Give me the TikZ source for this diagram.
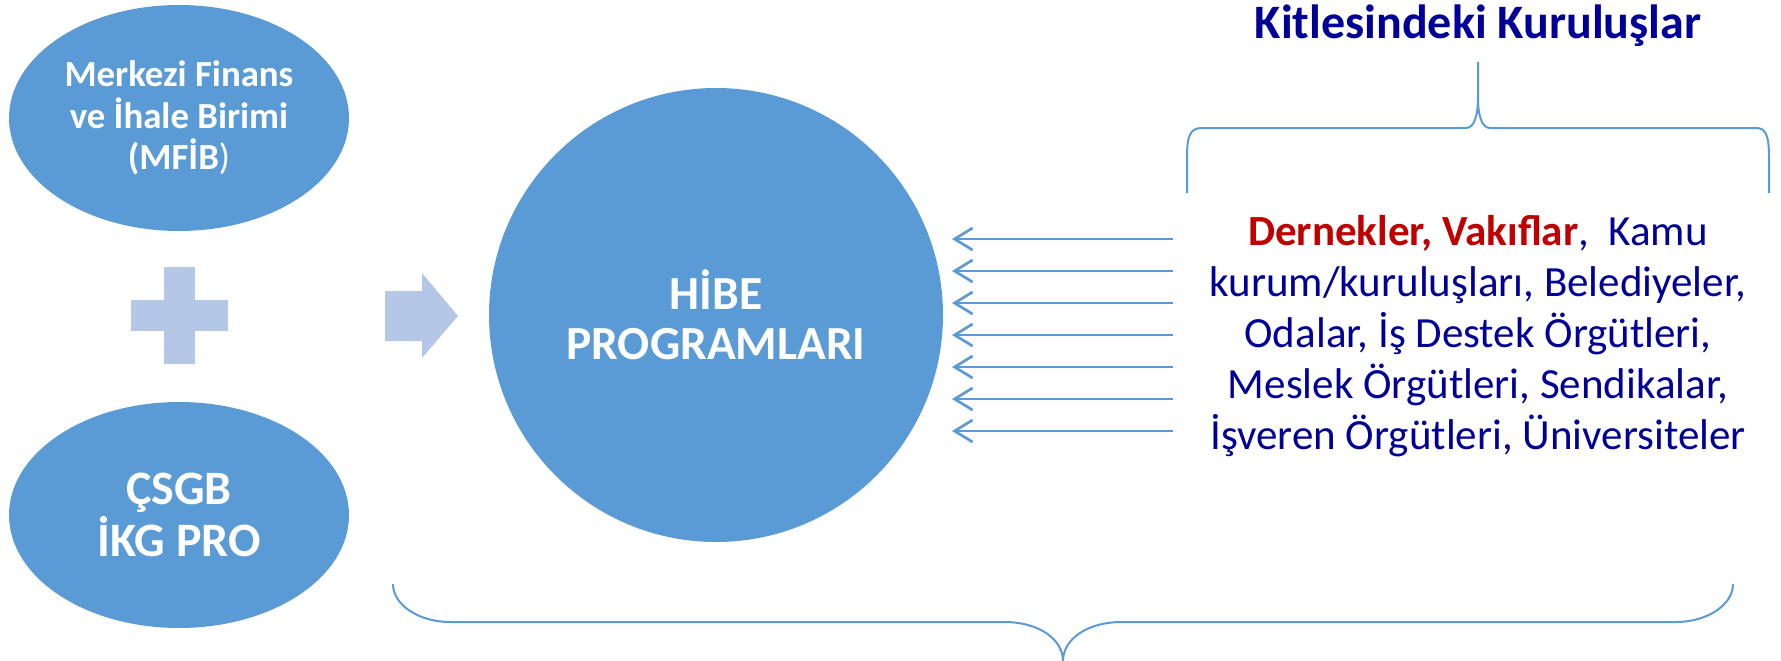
\documentclass[tikz,border=0pt]{standalone}
\usepackage{fontspec}
\setmainfont{Carlito}
\usetikzlibrary{shapes.geometric,arrows.meta}
\definecolor{mblue}{HTML}{5B9BD5}
\definecolor{lblue}{HTML}{B4C7E7}
\definecolor{navy}{HTML}{000099}
\definecolor{dred}{HTML}{C00000}
\tikzset{
  blob/.style={ellipse, fill=mblue, inner sep=0pt, text=white, align=center},
  inarrow/.style={draw=mblue, line width=2.7pt, -{Straight Barb[length=18pt,width=22pt,line width=2.7pt]}},
  brace/.style={draw=mblue, line width=2pt},
  rtext/.style={anchor=base, text=navy, font=\fontsize{43}{51}\selectfont, inner sep=0pt},
  shapefill/.style={fill=lblue}
}
\begin{document}
\begin{tikzpicture}[x=1pt,y=-1pt]
\useasboundingbox (0,0) rectangle (1781,661);

% left ellipses
\node[blob, minimum width=340, minimum height=226,
      font=\bfseries\fontsize{36.8}{41.5}\selectfont] (mfib) at (179,118)
      {Merkezi Finans\\ve İhale Birimi\\(MFİB{\mdseries)}};
\node[blob, minimum width=340, minimum height=226,
      font=\bfseries\fontsize{48}{52}\selectfont] (csgb) at (179,515)
      {ÇSGB\\İKG PRO};

% plus sign
\fill[shapefill] (164,267) rectangle (195,364);
\fill[shapefill] (131,300) rectangle (228,331);

% block arrow
\fill[shapefill] (385,291) -- (422,291) -- (422,273) -- (458,316) -- (422,358) -- (422,341) -- (385,341) -- cycle;

% central circle
\node[circle, fill=mblue, minimum size=454, inner sep=0pt, text=white, align=center,
      font=\bfseries\fontsize{47.5}{50}\selectfont] (hibe) at (716,315)
      {HİBE\\PROGRAMLARI};

% incoming arrows
\foreach \i in {0,...,6} {
  \coordinate (s\i) at (1173,239+32*\i);
  \coordinate (t\i) at (952,239+32*\i);
  \draw[inarrow] (s\i) -- (t\i);
}

% title
\node[anchor=base, text=navy, font=\bfseries\fontsize{48}{54}\selectfont, inner sep=0pt] (title) at (1478,39) {Kitlesindeki Kuruluşlar};

% top brace
\draw[brace] (1187,193) -- (1187,157) .. controls (1187,136) and (1190,128) .. (1202,128)
  -- (1466,128) .. controls (1474,128) and (1478,116) .. (1478,98) -- (1478,62);
\draw[brace] (1478,98) .. controls (1478,116) and (1482,128) .. (1490,128)
  -- (1756,128) .. controls (1766,128) and (1769,136) .. (1769,157) -- (1769,193);

% right text
\node[rtext] (r1) at (1478,245) {{\bfseries\color{dred}Dernekler, Vakıflar},\ \ Kamu};
\node[rtext] (r2) at (1478,296) {kurum/kuruluşları, Belediyeler,};
\node[rtext] (r3) at (1478,347) {Odalar, İş Destek Örgütleri,};
\node[rtext] (r4) at (1478,398) {Meslek Örgütleri, Sendikalar,};
\node[rtext] (r5) at (1478,449) {İşveren Örgütleri, Üniversiteler};

% bottom brace
\draw[brace] (393,584) .. controls (393,605) and (419,622) .. (450,622)
  -- (1004,622) .. controls (1040,622) and (1063,640) .. (1063,661);
\draw[brace] (1063,661) .. controls (1063,640) and (1086,622) .. (1122,622)
  -- (1676,622) .. controls (1707,622) and (1733,605) .. (1733,584);
\end{tikzpicture}
\end{document}
